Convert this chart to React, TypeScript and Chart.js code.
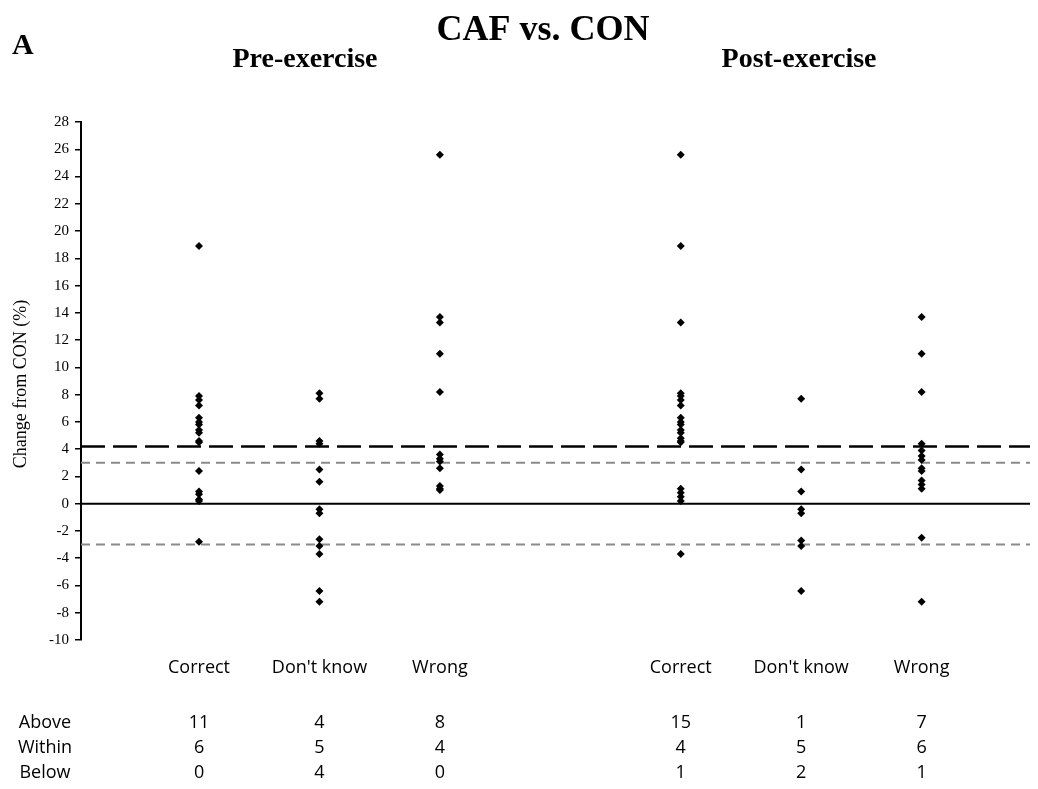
import React, { useEffect, useRef } from "react";
import { Chart, registerables } from "chart.js";

Chart.register(...registerables);

// ---- Data ----
const categories = ["Correct", "Don't know", "Wrong"];
const categoryPositions = [1, 2, 3, 5, 6, 7];
const phaseTitles = ["Pre-exercise", "Post-exercise"];

const preCorrect = [18.9, 7.9, 7.6, 7.2, 6.3, 6.0, 5.8, 5.4, 5.2, 4.6, 4.5, 2.4, 0.9, 0.7, 0.3, 0.2, -2.8];
const preDontKnow = [8.1, 7.7, 4.6, 4.4, 2.5, 1.6, -0.4, -0.7, -2.6, -3.1, -3.7, -6.4, -7.2];
const preWrong = [25.6, 13.7, 13.3, 11.0, 8.2, 3.6, 3.3, 3.1, 2.6, 1.3, 1.1, 1.0];
const postCorrect = [25.6, 18.9, 13.3, 8.1, 7.9, 7.6, 7.2, 6.3, 6.0, 5.8, 5.4, 5.2, 4.8, 4.6, 4.5, 1.1, 0.8, 0.5, 0.2, -3.7];
const postDontKnow = [7.7, 2.5, 0.9, -0.4, -0.7, -2.7, -3.1, -6.4];
const postWrong = [13.7, 11.0, 8.2, 4.4, 3.9, 3.5, 3.2, 2.6, 2.4, 1.7, 1.4, 1.1, -2.5, -7.2];

const allSeries = [preCorrect, preDontKnow, preWrong, postCorrect, postDontKnow, postWrong];

const rowLabels = ["Above", "Within", "Below"];
const aboveCounts = [11, 4, 8, 15, 1, 7];
const withinCounts = [6, 5, 4, 4, 5, 6];
const belowCounts = [0, 4, 0, 1, 2, 1];
const tableRows = [aboveCounts, withinCounts, belowCounts];

const yMin = -10;
const yMax = 28;
const yStep = 2;
const xMin = 0.02;
const xMax = 7.9;

const meaningfulChange = 4.2;
const errorBand = [3, -3];
const zeroLine = 0;

const serif = '"Liberation Serif", "Times New Roman", serif';
const sans = '"Open Sans", Lato, sans-serif';

const annotations = {
  id: "annotations",
  afterDraw(chart: any) {
    const ctx = chart.ctx;
    const xs = chart.scales.x;
    ctx.save();
    ctx.fillStyle = "#000";
    ctx.textBaseline = "alphabetic";

    ctx.textAlign = "left";
    ctx.font = `bold 30px ${serif}`;
    ctx.fillText("A", 12, 54);

    ctx.textAlign = "center";
    ctx.font = `bold 36px ${serif}`;
    ctx.fillText("CAF vs. CON", 543, 40);

    ctx.font = `bold 28px ${serif}`;
    ctx.fillText(phaseTitles[0], 305, 67);
    ctx.fillText(phaseTitles[1], 799, 67);

    // y-axis title
    ctx.save();
    ctx.translate(21, 384);
    ctx.rotate(-Math.PI / 2);
    ctx.font = `18px ${serif}`;
    ctx.textBaseline = "middle";
    ctx.fillText("Change from CON (%)", 0, 0);
    ctx.restore();

    // category labels
    ctx.font = `18px ${sans}`;
    ctx.textBaseline = "middle";
    categoryPositions.forEach((p, i) => {
      ctx.fillText(categories[i % categories.length], xs.getPixelForValue(p), 668);
    });

    // table
    const rowY = [723, 748, 773];
    rowLabels.forEach((label, r) => {
      ctx.fillText(label, 45, rowY[r]);
      tableRows[r].forEach((v, i) => {
        ctx.fillText(String(v), xs.getPixelForValue(categoryPositions[i]), rowY[r]);
      });
    });
    ctx.restore();
  },
};

function hLine(y: number, color: string, width: number, dash: number[]) {
  return {
    type: "line" as const,
    data: [
      { x: xMin, y },
      { x: xMax, y },
    ],
    borderColor: color,
    borderWidth: width,
    borderDash: dash,
    pointRadius: 0,
    fill: false,
    order: 2,
  };
}

export default function App() {
  const ref = useRef<HTMLCanvasElement>(null);

  useEffect(() => {
    if (!ref.current) return;
    const pointSets = allSeries.map((vals, i) => ({
      type: "scatter" as const,
      data: vals.map((v) => ({ x: categoryPositions[i], y: v })),
      pointStyle: "rectRot",
      pointRadius: 4,
      backgroundColor: "#000",
      borderColor: "#000",
      borderWidth: 0,
      order: 1,
    }));

    const chart = new Chart(ref.current, {
      type: "scatter",
      data: {
        datasets: [
          hLine(meaningfulChange, "#000", 2.5, [24, 8]),
          hLine(errorBand[0], "#8a8a8a", 2, [9, 6]),
          hLine(errorBand[1], "#8a8a8a", 2, [9, 6]),
          hLine(zeroLine, "#000", 2, []),
          ...pointSets,
        ] as any,
      },
      options: {
        responsive: false,
        animation: false,
        devicePixelRatio: 1,
        layout: { padding: { top: 122, bottom: 149, left: 0, right: 8 } },
        plugins: {
          legend: { display: false },
          tooltip: { enabled: false },
          title: { display: false },
        },
        scales: {
          x: {
            type: "linear",
            min: xMin,
            max: xMax,
            display: false,
          },
          y: {
            type: "linear",
            min: yMin,
            max: yMax,
            afterFit: (scale: any) => {
              scale.width = 81;
            },
            ticks: {
              stepSize: yStep,
              color: "#000",
              font: { family: serif, size: 15 },
              padding: 6,
            },
            grid: {
              drawOnChartArea: false,
              drawTicks: true,
              tickLength: 6,
              color: "#000",
              lineWidth: 1.5,
            },
            border: { display: true, color: "#000", width: 2 },
          },
        },
      },
      plugins: [annotations],
    });
    return () => chart.destroy();
  }, []);

  return (
    <div style={{ position: "absolute", left: 0, top: 0, width: 1038, height: 789, background: "#fff" }}>
      <canvas ref={ref} width={1038} height={789} />
    </div>
  );
}
